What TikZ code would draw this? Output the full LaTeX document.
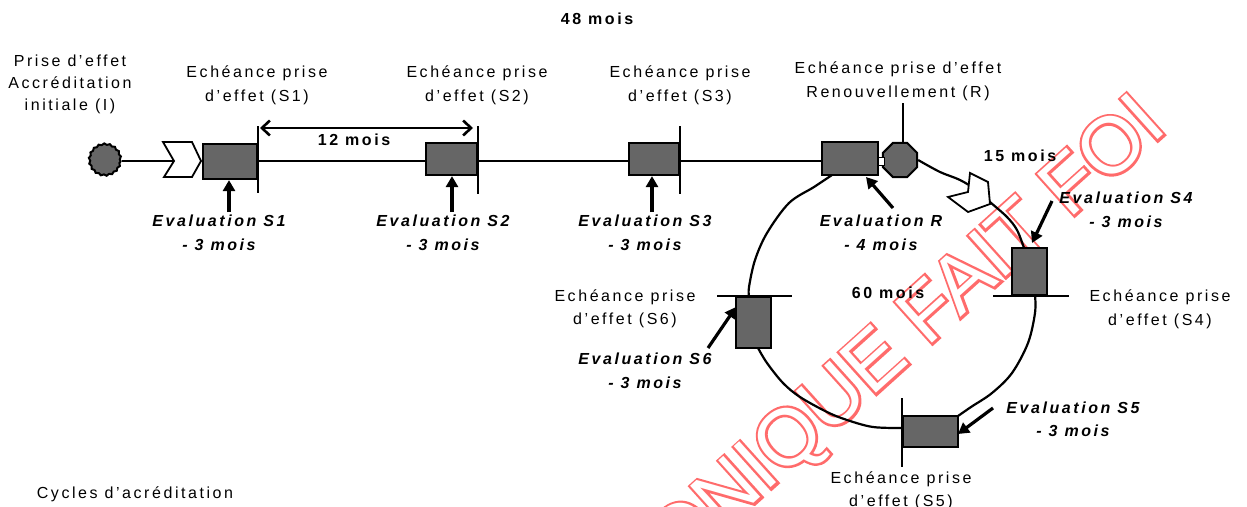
\documentclass[tikz,border=0pt]{standalone}
\usepackage{fontspec}
\setmainfont{Liberation Sans}[LetterSpace=16]
\newfontfamily\wmfont{Liberation Sans}
\newfontfamily\wmbold{Liberation Sans}[FakeBold=6]
\usetikzlibrary{shapes.geometric,arrows.meta,decorations.pathmorphing}
\definecolor{boxgray}{HTML}{666666}
\definecolor{wmred}{HTML}{FF6B6B}
\tikzset{barbtip/.tip={Straight Barb[length=8pt,width=15pt,line width=2.6pt]}}
\begin{document}
\begin{tikzpicture}[x=1pt,y=-1pt,
  txt/.style={inner sep=0pt, align=center, font=\fontsize{16}{23.5}\selectfont},
  ev/.style={txt, font=\fontsize{16}{23.5}\selectfont\bfseries\itshape},
  bld/.style={txt, font=\fontsize{16}{23.5}\selectfont\bfseries},
  gbox/.style={draw, line width=2.2pt, fill=boxgray, inner sep=0pt},
  ln/.style={line width=2.2pt},
  cyc/.style={line width=2.2pt, line join=round},
  evarrow/.style={line width=3.2pt, -{Triangle[length=11pt,width=12pt]}},
  chev/.style={draw, line width=1.8pt, fill=white, line join=miter},
  wm/.style={rotate=42, anchor=base east, inner sep=0pt}
]
\useasboundingbox (0,0) rectangle (1247,506);

% ---------- watermark (outlined stamp) ----------
\node[wm, text=wmred, font=\wmbold\fontsize{80}{80}\selectfont] (wmo) at (1169,130) {ONIQUE FAIT FOI};
\node[wm, text=white, font=\wmfont\fontsize{80}{80}\selectfont] (wmi) at (1169,130) {ONIQUE FAIT FOI};

% ---------- top texts ----------
\node[bld] (t48) at (597,19) {48 mois};
\node[txt, font=\fontsize{16}{22}\selectfont] (lI) at (70,84) {Prise d’effet\\Accréditation\\initiale (I)};
\node[txt] (lS1) at (257,85.5) {Echéance prise\\d’effet (S1)};
\node[txt] (lS2) at (477,85.5) {Echéance prise\\d’effet (S2)};
\node[txt] (lS3) at (680,85.5) {Echéance prise\\d’effet (S3)};
\node[txt] (lR) at (898,81.5) {Echéance prise d’effet\\Renouvellement (R)};

% ---------- start ----------
\node[draw, circle, line width=2pt, fill=boxgray, minimum size=31pt, inner sep=0pt,
      decorate, decoration={snake, segment length=5.5pt, amplitude=0.7pt}] (init) at (105,161) {};
\coordinate (c1notch) at (174,161);
\draw[ln] (init.east) -- (c1notch);
\draw[chev] (163,142) -- (192,142) -- (201,161) -- (192,177) -- (164,177) -- (c1notch) -- cycle;

% ---------- boxes ----------
\node[gbox, minimum width=54pt, minimum height=35pt] (s1) at (230,161.5) {};
\node[gbox, minimum width=51pt, minimum height=32pt] (s2) at (451.5,159) {};
\node[gbox, minimum width=50pt, minimum height=32pt] (s3) at (654,159) {};
\node[gbox, minimum width=56pt, minimum height=33pt] (r) at (850,158.5) {};
\node[gbox, minimum width=35pt, minimum height=47pt] (s4) at (1029.5,271.5) {};
\node[gbox, minimum width=55pt, minimum height=31pt] (s5) at (930.5,431.5) {};
\node[gbox, minimum width=35pt, minimum height=51pt] (s6) at (753.5,322.5) {};
\node[draw, regular polygon, regular polygon sides=8, minimum size=37pt, line width=2pt, fill=boxgray, inner sep=0pt] (oct) at (900,160) {};
\node[draw, line width=1pt, fill=white, minimum width=6pt, minimum height=8pt, inner sep=0pt] (link) at (881.5,161) {};

% ---------- main line ----------
\draw[ln] (s1.east |- 0,161) -- (s2.west |- 0,161);
\draw[ln] (s2.east |- 0,161) -- (s3.west |- 0,161);
\draw[ln] (s3.east |- 0,161) -- (r.west |- 0,161);

% ---------- ticks ----------
\draw[ln] (s1.east |- 0,126) -- (s1.east |- 0,193);
\draw[ln] (s2.east |- 0,126) -- (s2.east |- 0,194);
\draw[ln] (s3.east |- 0,126) -- (s3.east |- 0,194);
\draw[ln] (993,0 |- s4.south) -- (1069,0 |- s4.south);
\draw[ln] (s5.west |- 0,398) -- (s5.west |- 0,467);
\draw[ln] (717,0 |- s6.north) -- (792,0 |- s6.north);
\coordinate (rtop) at (903,103);
\draw[ln] (rtop) -- (rtop |- oct.north);

% ---------- 12 mois ----------
\coordinate (d1) at (260,128);
\coordinate (d2) at (473,128);
\draw[line width=2.5pt, {barbtip}-{barbtip}] (d1) -- (d2);
\node[bld] (t12) at (354,140) {12 mois};

% ---------- cycle ----------
\draw[cyc] plot[smooth, tension=0.55] coordinates {(oct.east) (940,172) (960,180) (978,191) (990,202) (1007,217) (1017,230) (1024,248)};
\draw[cyc] plot[smooth, tension=0.55] coordinates {(1035,295) (1035,313) (1028,343) (1012,373) (992,393) (971,407) (958,416)};
\draw[cyc] plot[smooth, tension=0.55] coordinates {(903,428) (873,427) (847,420) (827,412) (800,397) (783,383) (767,363) (758,348)};
\draw[cyc] plot[smooth, tension=0.55] coordinates {(749,297) (749,287) (755,260) (767,233) (789,203) (814,187) (832,175)};
\draw[chev] (970,173) -- (988,182) -- (990,204) -- (968,212) -- (948,197) -- (968,192) -- cycle;
\node[bld] (t15) at (1020,156) {15 mois};
\node[bld] (t60) at (888,293) {60 mois};

% ---------- evaluation arrows ----------
\coordinate (a1) at (229,212);
\draw[evarrow] (a1) -- (a1 |- s1.south);
\coordinate (a2) at (452,212);
\draw[evarrow] (a2) -- (a2 |- s2.south);
\coordinate (a3) at (652,212);
\draw[evarrow] (a3) -- (a3 |- s3.south);
\coordinate (aR) at (893,208);
\draw[evarrow] (aR) -- (866,177);
\coordinate (a4) at (1052,201);
\draw[evarrow] (a4) -- (1032,243);
\coordinate (a5) at (993,408);
\draw[evarrow] (a5) -- (958,434);
\coordinate (a6) at (708,348);
\draw[evarrow] (a6) -- (736,307);

% ---------- evaluation labels ----------
\node[ev] (e1) at (219,233) {Evaluation S1\\- 3 mois};
\node[ev] (e2) at (443,233) {Evaluation S2\\- 3 mois};
\node[ev] (e3) at (645,233) {Evaluation S3\\- 3 mois};
\node[ev] (eR) at (881,233) {Evaluation R\\- 4 mois};
\node[ev] (e4) at (1126,210) {Evaluation S4\\- 3 mois};
\node[ev] (e5) at (1073,419.5) {Evaluation S5\\- 3 mois};
\node[ev] (e6) at (645,371) {Evaluation S6\\- 3 mois};

% ---------- other labels ----------
\node[txt] (lS4) at (1160,309.5) {Echéance prise\\d’effet (S4)};
\node[txt] (lS5) at (901,491) {Echéance prise\\d’effet (S5)};
\node[txt] (lS6) at (625,309) {Echéance prise\\d’effet (S6)};
\node[txt] (cyc) at (135,494) {Cycles d’acréditation};
\end{tikzpicture}
\end{document}
